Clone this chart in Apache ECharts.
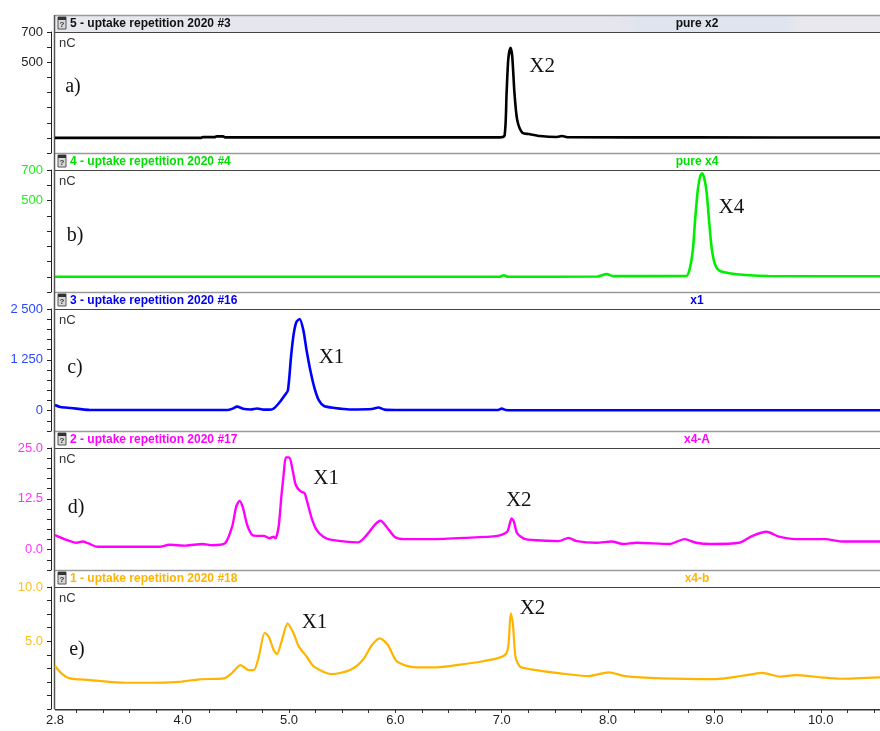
<!DOCTYPE html>
<html>
<head>
<meta charset="utf-8">
<script src="https://cdn.jsdelivr.net/npm/echarts@6/dist/echarts.min.js"></script>
<style>
  html, body { margin: 0; padding: 0; background: #ffffff; }
  #chart { width: 880px; height: 731px; }
</style>
</head>
<body>
<div id="chart"></div>
<script>
// Chromatograms of five injections: retention time (min) vs. detector response (nC)

// a) 5 - uptake repetition 2020 #3 (pure x2)
const timeA = [2.80, 4.17, 4.19, 4.30, 4.32, 4.38, 4.40, 6.98, 7.027, 7.046, 7.062, 7.083, 7.099, 7.12, 7.146, 7.193, 7.258, 7.36, 7.52, 7.566, 7.63, 8.80, 10.56];
const respA = [0, 0, 5, 5, 10, 10, 3, 3, 15, 295, 520, 595, 540, 297, 118, 35, 25, 12, 6, 12, 4, 3, 2];

// b) 4 - uptake repetition 2020 #4 (pure x4)
const timeB = [2.80, 6.98, 7.02, 7.06, 7.90, 7.987, 8.05, 8.735, 8.765, 8.797, 8.821, 8.844, 8.865, 8.884, 8.905, 8.928, 8.952, 8.977, 9.008, 9.046, 9.139, 9.295, 9.51, 10.56];
const respB = [0, 0, 10, 0, 2, 17, 4, 5, 44, 175, 394, 569, 656, 678, 645, 547, 350, 175, 77, 40, 23, 11, 5, 3];

// c) 3 - uptake repetition 2020 #16 (x1)
const timeC = [2.80, 2.85, 2.95, 3.12, 4.42, 4.47, 4.51, 4.58, 4.64, 4.70, 4.76, 4.82, 4.86, 4.91, 4.96, 4.99, 5.02, 5.045, 5.07, 5.10, 5.135, 5.165, 5.20, 5.24, 5.28, 5.33, 5.43, 5.57, 5.78, 5.84, 5.90, 6.00, 6.96, 7.00, 7.04, 7.10, 10.56];
const respC = [140, 90, 65, 20, 15, 50, 100, 40, 30, 55, 25, 25, 60, 200, 380, 500, 1350, 1900, 2180, 2255, 1980, 1490, 1000, 555, 260, 115, 65, 30, 40, 78, 25, 15, 15, 50, 15, 10, 10];

// d) 2 - uptake repetition 2020 #17 (x4-A)
const timeD = [2.80, 2.91, 3.00, 3.06, 3.11, 3.20, 3.78, 3.875, 4.03, 4.186, 4.28, 4.40, 4.466, 4.504, 4.535, 4.566, 4.607, 4.654, 4.70, 4.763, 4.816, 4.856, 4.872, 4.903, 4.928, 4.95, 4.971, 5.003, 5.034, 5.064, 5.106, 5.146, 5.167, 5.214, 5.261, 5.323, 5.401, 5.65, 5.744, 5.806, 5.862, 5.915, 5.993, 6.087, 6.336, 6.648, 6.959, 7.052, 7.093, 7.115, 7.146, 7.223, 7.426, 7.535, 7.629, 7.706, 7.893, 8.033, 8.143, 8.267, 8.579, 8.719, 8.828, 8.968, 9.233, 9.358, 9.492, 9.607, 9.763, 9.919, 10.04, 10.21, 10.56];
const respD = [3.6, 2.4, 1.7, 2.0, 1.6, 0.7, 0.7, 1.2, 1.0, 1.4, 1.1, 1.6, 5.7, 10.6, 12.0, 10.4, 6.1, 3.6, 3.4, 3.4, 2.8, 3.2, 2.8, 5.7, 13.0, 18.5, 22.7, 22.7, 19.6, 15.9, 14.4, 13.9, 12.2, 7.7, 4.8, 3.2, 2.4, 1.8, 4.0, 6.1, 7.1, 5.7, 3.2, 2.6, 2.6, 2.9, 3.4, 4.4, 7.7, 6.9, 4.0, 2.6, 2.2, 2.1, 2.9, 2.1, 1.7, 2.0, 1.4, 1.7, 1.4, 2.6, 1.7, 1.4, 1.7, 3.4, 4.4, 3.2, 2.6, 2.6, 2.6, 2.0, 2.0];

// e) 1 - uptake repetition 2020 #18 (x4-b)
const timeE = [2.80, 2.86, 2.94, 3.13, 3.31, 3.50, 3.69, 3.97, 4.16, 4.39, 4.466, 4.545, 4.62, 4.67, 4.716, 4.772, 4.81, 4.856, 4.887, 4.934, 4.987, 5.043, 5.09, 5.167, 5.235, 5.405, 5.575, 5.694, 5.78, 5.854, 5.93, 6.017, 6.187, 6.39, 6.63, 6.80, 6.986, 7.044, 7.065, 7.085, 7.105, 7.13, 7.173, 7.276, 7.55, 7.82, 8.007, 8.16, 8.50, 9.01, 9.248, 9.45, 9.62, 9.76, 10.00, 10.18, 10.56];
const respE = [2.71, 2.04, 1.58, 1.42, 1.26, 1.17, 1.17, 1.26, 1.49, 1.58, 2.09, 2.80, 2.34, 2.34, 3.57, 5.78, 5.42, 4.19, 3.82, 5.11, 6.65, 5.73, 4.55, 3.57, 2.65, 1.97, 2.34, 3.27, 4.65, 5.27, 4.65, 3.11, 2.59, 2.59, 2.87, 3.11, 3.51, 3.88, 4.81, 7.57, 6.65, 3.57, 2.65, 2.41, 2.04, 1.79, 2.13, 1.79, 1.58, 1.51, 1.79, 2.09, 1.73, 1.88, 1.67, 1.54, 1.67];

// Panel texts
const sampleTitles = ['5 - uptake repetition 2020 #3', '4 - uptake repetition 2020 #4', '3 - uptake repetition 2020 #16', '2 - uptake repetition 2020 #17', '1 - uptake repetition 2020 #18'];
const sampleNames = ['pure x2', 'pure x4', 'x1', 'x4-A', 'x4-b'];
const panelLetters = ['a)', 'b)', 'c)', 'd)', 'e)'];

// Peak annotations: [retention time, response, name]
const peakNotesA = [[7.38, 475, 'X2']];
const peakNotesB = [[9.16, 451, 'X4']];
const peakNotesC = [[5.40, 1320, 'X1']];
const peakNotesD = [[5.35, 17.4, 'X1'], [7.16, 12.2, 'X2']];
const peakNotesE = [[5.24, 6.7, 'X1'], [7.29, 8.0, 'X2']];

// Axis ranges and labelled ticks
const yMins = [-100, -100, -500, -5, -1.25];
const yMaxs = [700, 700, 2500, 25, 10];
const yTickSteps = [100, 100, 250, 2.5, 1.25];
const yLabelValuesA = [500, 700];
const yLabelValuesB = [500, 700];
const yLabelValuesC = [0, 1250, 2500];
const yLabelValuesD = [0, 12.5, 25];
const yLabelValuesE = [5, 10];
const xLabelValues = [2.8, 4.0, 5.0, 6.0, 7.0, 8.0, 9.0, 10.0];

// Layout
const PANEL_TOP = [15, 153, 292, 431, 570];
const PANEL_BOTTOM = [153, 292, 431, 570, 709];
const BAR_H = 17;
const PLOT_LEFT = 55;
const PLOT_WIDTH = 830;
const PX_PER_MIN = 107;
const X_MIN = 2.8;
const X_MAX = X_MIN + PLOT_WIDTH / PX_PER_MIN;

const lineColors = ['#000000', '#00ee00', '#0000ff', '#ff00ff', '#ffb400'];
const titleColors = ['#111111', '#00dd00', '#0000ee', '#ff00ff', '#ffb400'];
const labelColors = ['#222222', '#22ee22', '#2a48ff', '#ff33ff', '#ffbf22'];
const lineWidths = [2.6, 2.6, 2.6, 2.4, 2.2];

const times = [timeA, timeB, timeC, timeD, timeE];
const resps = [respA, respB, respC, respD, respE];
const notes = [peakNotesA, peakNotesB, peakNotesC, peakNotesD, peakNotesE];
const yLabelValues = [yLabelValuesA, yLabelValuesB, yLabelValuesC, yLabelValuesD, yLabelValuesE];

const yFormatters = [
  v => String(v),
  v => String(v),
  v => String(v).replace(/\B(?=(\d{3})+(?!\d))/g, ' '),
  v => v.toFixed(1),
  v => v.toFixed(1)
];

// minor x ticks every 0.25 min
const xTickValues = [];
for (let k = 12; k * 0.25 <= X_MAX; k++) xTickValues.push(k * 0.25);

const grids = [], xAxes = [], yAxes = [], series = [], graphics = [];

for (let i = 0; i < 5; i++) {
  const top = PANEL_TOP[i] + BAR_H;
  const isLast = i === 4;
  grids.push({ left: PLOT_LEFT, top: top, width: PLOT_WIDTH, height: PANEL_BOTTOM[i] - top, show: false });

  xAxes.push({
    type: 'value', gridIndex: i, min: X_MIN, max: X_MAX,
    splitLine: { show: false },
    axisLine: { show: isLast, onZero: false, lineStyle: { color: '#333333', width: 1 } },
    axisTick: isLast ? { show: true, customValues: xTickValues, length: 4, lineStyle: { color: '#333333' } } : { show: false },
    axisLabel: isLast ? {
      show: true, customValues: xLabelValues, formatter: v => v.toFixed(1),
      color: '#222222', fontSize: 13, fontFamily: 'Liberation Sans', margin: 5
    } : { show: false }
  });

  yAxes.push({
    type: 'value', gridIndex: i, min: yMins[i], max: yMaxs[i], interval: yTickSteps[i],
    offset: 4,
    splitLine: { show: false },
    axisLine: { show: true, onZero: false, lineStyle: { color: '#222222', width: 1 } },
    axisTick: { show: true, length: 4, lineStyle: { color: '#222222' } },
    axisLabel: {
      show: true, customValues: yLabelValues[i], formatter: yFormatters[i],
      color: labelColors[i], fontSize: 13, fontFamily: 'Liberation Sans', margin: 8
    }
  });

  series.push({
    type: 'line', xAxisIndex: i, yAxisIndex: i,
    data: times[i].map((t, k) => [t, resps[i][k]]),
    showSymbol: false, symbol: 'none',
    smooth: 0.25,
    clip: true,
    lineStyle: { color: lineColors[i], width: lineWidths[i] },
    silent: true,
    animation: false,
    markPoint: {
      symbol: 'circle', symbolSize: 1,
      itemStyle: { color: 'rgba(0,0,0,0)' },
      label: {
        show: true, position: 'inside', formatter: '{b}',
        fontFamily: 'Liberation Serif', fontSize: 21, color: '#111111'
      },
      data: notes[i].map(n => ({ name: n[2], coord: [n[0], n[1]] }))
    }
  });

  const T = PANEL_TOP[i];
  // title bar
  graphics.push({
    type: 'rect', shape: { x: PLOT_LEFT, y: T, width: PLOT_WIDTH, height: BAR_H },
    style: {
      fill: i === 0 ? new echarts.graphic.LinearGradient(0, 0, 1, 0, [
        { offset: 0, color: '#e7e7ee' }, { offset: 0.68, color: '#e5e6ee' },
        { offset: 0.70, color: '#dfe5ef' }, { offset: 0.88, color: '#dfe5ef' },
        { offset: 0.90, color: '#e8e8ee' }, { offset: 1, color: '#e8e8ee' }
      ]) : '#ffffff'
    },
    silent: true
  });
  // separator above the panel
  graphics.push({ type: 'line', shape: { x1: PLOT_LEFT, y1: T + 0.5, x2: 880, y2: T + 0.5 }, style: { stroke: '#9a9a9a', lineWidth: 1.5 }, silent: true });
  // line under the title bar
  graphics.push({ type: 'line', shape: { x1: PLOT_LEFT, y1: T + BAR_H + 0.5, x2: 880, y2: T + BAR_H + 0.5 }, style: { stroke: '#444444', lineWidth: 1.2 }, silent: true });
  // left frame
  graphics.push({ type: 'line', shape: { x1: PLOT_LEFT - 0.5, y1: T, x2: PLOT_LEFT - 0.5, y2: PANEL_BOTTOM[i] }, style: { stroke: '#555555', lineWidth: 1.5 }, silent: true });
  // document icon
  graphics.push({ type: 'rect', shape: { x: 58, y: T + 2, width: 8, height: 12 }, style: { fill: '#d8d8d8', stroke: '#555555', lineWidth: 1 }, silent: true });
  graphics.push({ type: 'rect', shape: { x: 58, y: T + 2, width: 8, height: 3 }, style: { fill: '#333333' }, silent: true });
  graphics.push({ type: 'text', x: 62, y: T + 10, style: { text: '?', font: 'bold 8px Liberation Sans', fill: '#333333', textAlign: 'center', textVerticalAlign: 'middle' }, silent: true });
  // sample title and name
  graphics.push({ type: 'text', x: 70, y: T + 9, style: { text: sampleTitles[i], font: 'bold 12px Liberation Sans', fill: titleColors[i], textVerticalAlign: 'middle' }, silent: true });
  graphics.push({ type: 'text', x: 697, y: T + 9, style: { text: sampleNames[i], font: 'bold 12px Liberation Sans', fill: titleColors[i], textAlign: 'center', textVerticalAlign: 'middle' }, silent: true });
  // unit
  graphics.push({ type: 'text', x: 59, y: T + BAR_H + 11, style: { text: 'nC', font: '13px Liberation Sans', fill: '#333333', textVerticalAlign: 'middle' }, silent: true });
}

// panel letters
const letterPos = [[73, 87], [75, 236], [75, 368], [76, 508], [77, 650]];
for (let i = 0; i < 5; i++) {
  graphics.push({ type: 'text', x: letterPos[i][0], y: letterPos[i][1], style: { text: panelLetters[i], font: '20px Liberation Serif', fill: '#111111', textAlign: 'center', textVerticalAlign: 'middle' }, silent: true });
}
// bottom frame of the last panel
graphics.push({ type: 'line', shape: { x1: PLOT_LEFT, y1: 710.5, x2: 880, y2: 710.5 }, style: { stroke: '#9a9a9a', lineWidth: 1 }, silent: true });

const chart = echarts.init(document.getElementById('chart'), null, { renderer: 'canvas' });
chart.setOption({
  backgroundColor: '#ffffff',
  animation: false,
  grid: grids,
  xAxis: xAxes,
  yAxis: yAxes,
  series: series,
  graphic: { elements: graphics }
});
</script>
</body>
</html>
